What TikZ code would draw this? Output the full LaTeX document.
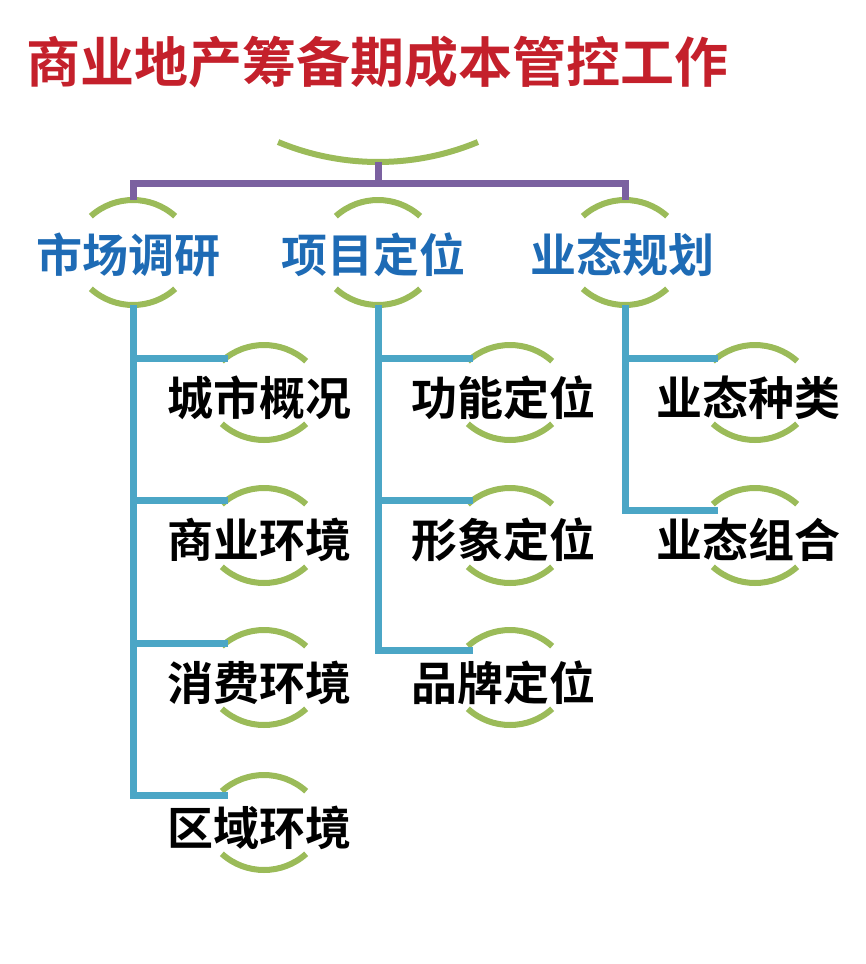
\documentclass[tikz,border=0pt]{standalone}
\usepackage{fontspec}
\setmainfont{Noto Sans CJK SC Bold}
\begin{document}
\begin{tikzpicture}[x=1pt,y=-1pt,
  green arc/.style={draw=arcgreen,line width=6pt},
  purple line/.style={draw=lpurple,line width=7pt},
  blue line/.style={draw=lblue,line width=7pt},
  cat/.style={font=\fontsize{46}{46}\selectfont,text=catblue,inner sep=0pt},
  sub/.style={font=\fontsize{46}{46}\selectfont,text=black,inner sep=0pt}]
\definecolor{arcgreen}{HTML}{9BBB59}
\definecolor{lpurple}{HTML}{7B61A0}
\definecolor{lblue}{HTML}{4BA6C6}
\definecolor{catblue}{HTML}{1E6BB5}
\definecolor{ttred}{HTML}{C4202B}
\path[fill=white] (0,0) rectangle (866,964);
\useasboundingbox (0,0) rectangle (866,964);
\newcommand{\capArc}[2]{\draw[green arc] ([shift={(228:63)}]#1,#2+63) arc[start angle=228,end angle=312,radius=63];}
\newcommand{\cupArc}[2]{\draw[green arc] ([shift={(132:63)}]#1,#2-63) arc[start angle=132,end angle=48,radius=63];}
\node[font=\fontsize{54}{54}\selectfont,text=ttred,inner sep=0pt] (title) at (378,62) {商业地产筹备期成本管控工作};
% top big arc
\draw[green arc] ([shift={(112.6:260)}]378,162-260) arc[start angle=112.6,end angle=67.4,radius=260];
\coordinate (root) at (378,162);
% categories
\node[cat] (c1) at (128,255) {市场调研};
\node[cat] (c2) at (373,255) {项目定位};
\node[cat] (c3) at (622,255) {业态规划};
\foreach \x in {133,378,625}{\capArc{\x}{200}\cupArc{\x}{305}}
\draw[purple line] (root) -- (378,183);
\draw[purple line] (133,200) -- (133,183) -- (625,183) -- (625,200);
% subs
\node[sub] (s11) at (259,398) {城市概况};
\node[sub] (s12) at (259,540) {商业环境};
\node[sub] (s13) at (259,683) {消费环境};
\node[sub] (s14) at (259,828) {区域环境};
\node[sub] (s21) at (503,398) {功能定位};
\node[sub] (s22) at (503,540) {形象定位};
\node[sub] (s23) at (503,683) {品牌定位};
\node[sub] (s31) at (748,398) {业态种类};
\node[sub] (s32) at (748,540) {业态组合};
\foreach \y in {345,488,630,775}{\capArc{264}{\y}\cupArc{264}{\y+95}}
\foreach \y in {345,488,630}{\capArc{510}{\y}\cupArc{510}{\y+95}}
\foreach \y in {345,488}{\capArc{755}{\y}\cupArc{755}{\y+95}}
\draw[blue line] (133,305) -- (133,795) -- (228,795);
\foreach \y in {358,500,643}{\draw[blue line] (133,\y) -- (228,\y);}
\draw[blue line] (378,305) -- (378,650) -- (473,650);
\foreach \y in {358,500}{\draw[blue line] (378,\y) -- (473,\y);}
\draw[blue line] (625,305) -- (625,510) -- (718,510);
\draw[blue line] (625,358) -- (718,358);
\end{tikzpicture}
\end{document}
